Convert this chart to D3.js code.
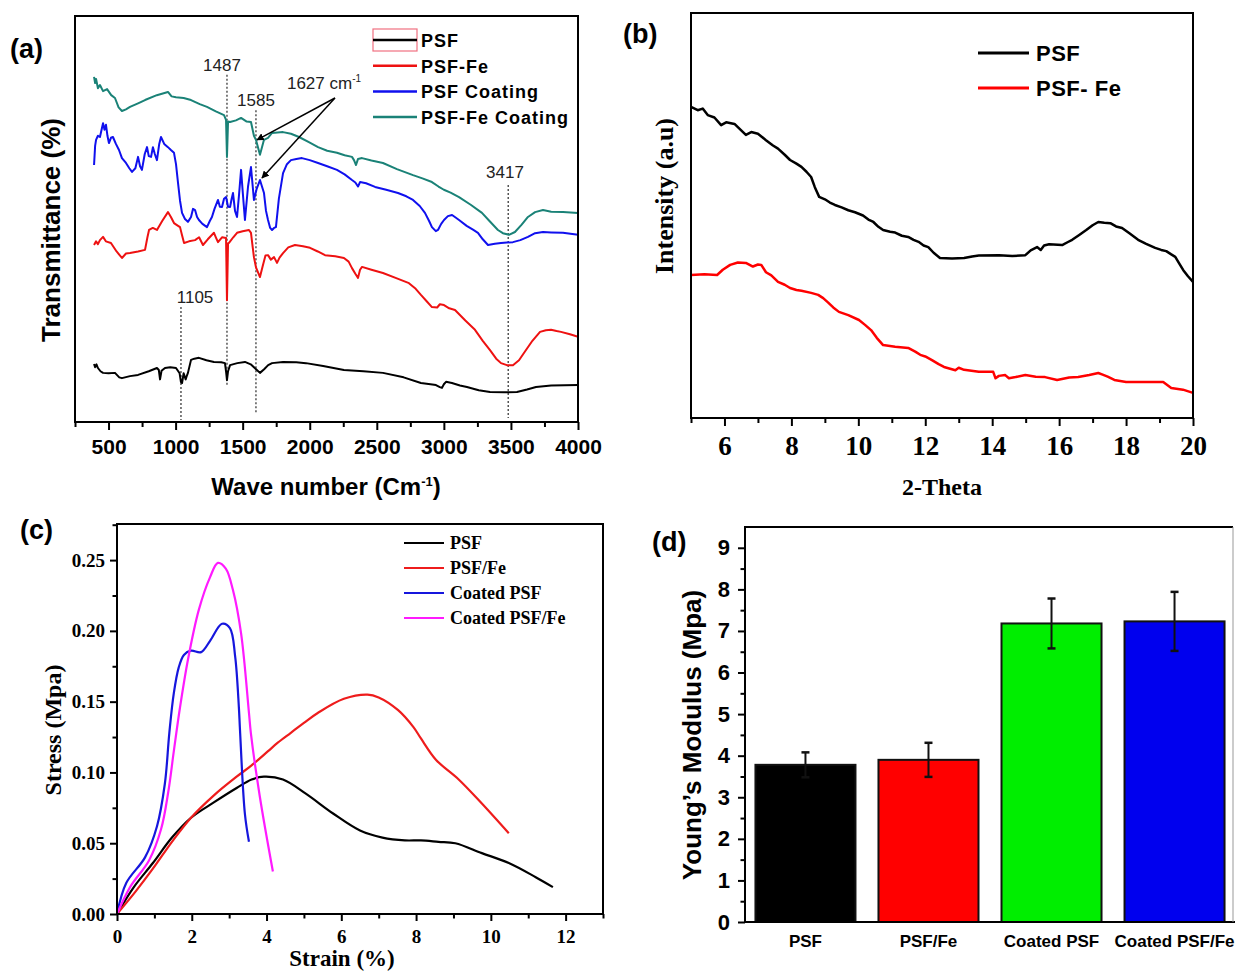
<!DOCTYPE html>
<html lang="en">
<head>
<meta charset="UTF-8">
<title>PSF membranes</title>
<style>
  body { margin:0; background:#fff; }
  svg { display:block; }
</style>
</head>
<body>
<script src="https://d3js.org/d3.v7.min.js"></script>
<script>
// ---------- (a) FTIR spectra: [wave number, transmittance (a.u.)]
var ftirPSF = [[392,14.3],[400,13.5],[410,14.2],[421,13.3],[440,12.5],[459,12.1],[500,12.0],[548,12.1],[580,11.0],[600,10.8],[660,11.3],[720,11.6],[800,12.5],[861,13.3],[875,12.8],[884,10.5],[895,12.6],[921,13.3],[960,13.5],[1003,13.3],[1030,12.0],[1040,9.8],[1048,9.6],[1060,12.0],[1075,10.5],[1085,11.5],[1092,12.1],[1115,15.3],[1140,15.6],[1174,15.8],[1230,15.2],[1286,14.8],[1340,14.7],[1368,14.5],[1376,12.5],[1383,10.3],[1391,12.5],[1406,14.0],[1460,14.5],[1517,14.8],[1560,14.2],[1600,13.0],[1629,12.1],[1660,13.0],[1690,14.0],[1719,14.5],[1801,14.8],[1900,14.7],[1972,14.5],[2100,13.8],[2255,12.8],[2400,12.5],[2546,12.1],[2700,11.0],[2829,9.6],[2900,9.3],[2941,9.1],[2970,8.6],[2986,8.4],[3000,9.3],[3016,9.9],[3060,9.6],[3120,9.0],[3172,8.6],[3260,7.8],[3344,7.4],[3450,7.3],[3545,7.4],[3620,8.0],[3687,8.6],[3800,9.0],[4000,9.1]];
var ftirPSFFe = [[392,43.6],[407,44.5],[421,43.8],[436,44.8],[459,45.6],[480,44.5],[518,44.1],[560,42.0],[600,40.4],[630,41.5],[660,41.6],[720,42.0],[772,42.4],[790,45.5],[802,47.3],[830,47.8],[861,47.3],[900,49.5],[943,51.7],[965,50.5],[988,49.0],[1010,48.5],[1033,48.0],[1048,46.0],[1063,44.1],[1100,44.5],[1145,44.8],[1175,45.5],[1204,43.6],[1240,45.0],[1286,46.6],[1300,45.5],[1316,44.3],[1346,45.5],[1376,45.3],[1383,30.0],[1391,44.0],[1398,44.1],[1430,45.5],[1458,46.6],[1500,47.0],[1547,47.3],[1562,46.6],[1575,43.0],[1584,40.6],[1600,38.0],[1629,35.7],[1650,38.5],[1670,41.0],[1689,41.1],[1710,40.0],[1734,40.6],[1756,39.2],[1775,40.5],[1801,41.6],[1840,43.0],[1890,43.6],[1950,43.3],[2002,42.9],[2060,42.0],[2114,41.1],[2190,40.8],[2255,40.4],[2290,39.5],[2315,37.9],[2340,36.5],[2360,35.5],[2375,37.5],[2390,38.2],[2460,37.5],[2546,36.7],[2640,35.5],[2740,34.2],[2790,32.8],[2829,31.3],[2870,29.8],[2911,28.3],[2950,28.2],[2970,29.0],[3001,28.8],[3040,28.0],[3083,27.6],[3160,25.0],[3232,22.7],[3290,20.0],[3344,17.7],[3390,15.6],[3426,14.5],[3470,14.0],[3515,14.0],[3560,15.2],[3597,17.0],[3660,20.0],[3717,22.2],[3760,22.6],[3799,22.7],[3840,22.4],[3873,22.2],[3940,21.6],[4000,21.0]];
var ftirCoat = [[392,63.3],[400,68.0],[407,69.5],[421,70.5],[436,70.2],[459,73.6],[470,72.0],[481,73.2],[492,70.5],[503,68.7],[518,70.0],[533,70.2],[555,68.5],[578,67.0],[600,65.0],[630,63.8],[655,62.5],[675,61.6],[700,62.5],[720,65.3],[735,63.0],[749,62.1],[770,66.0],[787,67.7],[800,65.5],[817,65.3],[831,67.7],[845,66.0],[861,64.5],[878,68.5],[891,70.2],[915,68.5],[943,67.7],[965,67.0],[988,66.3],[1003,63.5],[1018,58.9],[1033,54.5],[1048,51.5],[1070,50.0],[1092,49.3],[1115,50.5],[1130,52.5],[1145,52.2],[1160,50.5],[1174,49.75],[1200,48.8],[1234,48.0],[1255,49.5],[1271,50.5],[1290,52.5],[1316,54.7],[1330,53.0],[1346,52.96],[1361,55.0],[1376,55.4],[1391,53.0],[1406,52.96],[1418,55.0],[1428,56.4],[1443,52.0],[1458,50.5],[1473,56.0],[1488,62.1],[1502,56.0],[1517,49.75],[1540,58.0],[1562,62.8],[1575,58.0],[1584,54.7],[1605,57.5],[1629,59.6],[1644,58.0],[1659,56.4],[1674,52.0],[1689,49.75],[1705,47.8],[1719,47.3],[1734,47.8],[1748,48.0],[1770,55.0],[1801,61.3],[1830,63.5],[1860,64.5],[1900,64.8],[1942,65.0],[2000,64.5],[2062,63.8],[2130,63.0],[2203,62.1],[2260,61.0],[2315,59.6],[2340,59.0],[2360,58.0],[2375,59.1],[2420,58.8],[2487,57.9],[2570,57.2],[2658,56.4],[2720,55.6],[2770,54.7],[2820,53.2],[2859,51.5],[2890,49.5],[2911,48.0],[2940,47.0],[2956,47.3],[2980,48.8],[3001,49.75],[3030,50.7],[3061,51.0],[3090,50.3],[3113,49.75],[3170,48.3],[3220,47.3],[3254,46.6],[3290,45.0],[3329,43.6],[3380,43.9],[3426,44.1],[3470,44.2],[3515,44.3],[3570,44.8],[3627,45.6],[3680,46.5],[3739,46.8],[3800,46.7],[3888,46.6],[4000,46.1]];
var ftirFeCoat = [[392,85.0],[400,83.5],[407,84.5],[421,82.2],[436,83.0],[459,81.5],[489,82.0],[520,80.5],[548,79.8],[575,77.5],[600,76.6],[630,77.0],[660,77.6],[720,78.5],[772,79.3],[860,80.5],[943,81.3],[970,80.2],[1003,80.0],[1060,79.8],[1115,79.3],[1180,78.3],[1234,77.6],[1300,76.5],[1361,75.6],[1376,74.4],[1383,65.3],[1391,74.0],[1406,73.9],[1450,74.3],[1488,74.9],[1530,74.0],[1562,73.9],[1584,70.5],[1599,69.5],[1629,65.8],[1659,69.5],[1689,70.0],[1719,71.2],[1801,71.4],[1860,71.0],[1920,70.2],[1990,69.0],[2062,67.7],[2130,66.8],[2203,66.3],[2260,65.7],[2315,65.3],[2330,64.5],[2345,63.3],[2360,64.8],[2390,65.0],[2460,64.4],[2546,63.8],[2650,62.3],[2770,60.8],[2840,60.0],[2911,59.1],[2960,58.0],[3000,57.2],[3050,56.5],[3113,55.4],[3200,53.5],[3284,51.5],[3340,49.5],[3403,47.3],[3440,46.5],[3485,46.1],[3530,46.8],[3580,48.6],[3627,50.5],[3680,51.7],[3739,52.2],[3800,51.8],[3888,51.7],[4000,51.5]];
var ftirNames = ['PSF', 'PSF-Fe', 'PSF Coating', 'PSF-Fe Coating'];
var ftirTicks = [500, 1000, 1500, 2000, 2500, 3000, 3500, 4000];
// marked peaks: [line position, top, bottom, label, label x, label y]
var peakMarks = [
  [1383, 85.5, 9.1, '1487', 1346, 86.5],
  [1599, 76.8, 2.2, '1585', 1599, 77.8],
  [1040, 28.3, 0.5, '1105', 1145, 29.3],
  [3480, 58.4, 1.0, '3417', 3456, 60.1]
];
var arrowFrom = [2188, 79.8];
var arrowTo = [[1607, 69.5], [1644, 60.1]];

// ---------- (b) XRD: [2-theta, intensity (a.u.)]
var xrdPSF = [[5.0,76.8],[5.2,76.0],[5.35,76.4],[5.5,74.8],[5.7,74.2],[5.9,72.3],[6.05,73.0],[6.3,72.6],[6.5,71.0],[6.64,69.9],[6.8,70.6],[7.0,70.2],[7.24,68.6],[7.45,67.3],[7.6,66.5],[7.8,65.0],[7.96,63.7],[8.15,62.8],[8.3,62.0],[8.45,60.8],[8.59,59.5],[8.7,57.0],[8.83,54.6],[9.0,54.0],[9.15,53.2],[9.3,52.6],[9.5,52.0],[9.7,51.3],[9.9,50.8],[10.14,50.0],[10.3,49.0],[10.45,48.4],[10.6,47.2],[10.74,46.4],[10.95,46.0],[11.1,45.8],[11.3,45.0],[11.49,44.7],[11.65,44.0],[11.8,43.5],[11.95,42.6],[12.09,42.2],[12.25,40.8],[12.44,39.5],[12.8,39.4],[13.16,39.5],[13.4,39.9],[13.6,40.1],[14.2,40.2],[14.6,40.0],[14.99,40.2],[15.15,41.4],[15.34,42.2],[15.45,41.5],[15.55,42.6],[15.7,42.9],[16.09,42.7],[16.25,43.4],[16.39,44.0],[16.6,45.2],[16.81,46.4],[17.0,47.6],[17.17,48.4],[17.35,48.2],[17.53,48.1],[17.7,47.3],[17.88,46.9],[18.1,45.6],[18.36,44.0],[18.6,43.0],[18.87,42.0],[19.05,41.5],[19.2,41.2],[19.35,40.4],[19.47,39.8],[19.6,38.0],[19.71,36.5],[19.85,35.0],[20.0,33.6]];
var xrdPSFFe = [[5.0,35.3],[5.4,35.5],[5.78,35.3],[5.95,36.6],[6.17,37.8],[6.4,38.4],[6.64,38.3],[6.85,37.4],[7.0,37.9],[7.1,37.8],[7.24,36.0],[7.4,35.2],[7.6,33.6],[7.8,32.9],[7.96,32.1],[8.15,31.6],[8.3,31.4],[8.59,30.9],[8.8,30.4],[8.95,29.6],[9.1,28.5],[9.25,27.3],[9.42,26.2],[9.7,25.4],[10.02,24.2],[10.2,23.0],[10.38,21.7],[10.55,19.8],[10.74,18.0],[11.1,17.6],[11.49,17.3],[11.7,16.4],[11.85,15.6],[12.0,15.2],[12.2,14.3],[12.4,13.3],[12.56,12.6],[12.9,11.8],[13.0,12.4],[13.16,11.9],[13.6,11.4],[14.03,11.4],[14.1,9.8],[14.2,10.4],[14.39,10.6],[14.5,9.8],[14.7,10.1],[14.99,10.6],[15.3,10.2],[15.58,10.1],[15.94,9.4],[16.3,10.0],[16.57,10.1],[16.9,10.6],[17.17,11.1],[17.3,10.7],[17.45,10.2],[17.65,9.4],[18.0,8.9],[18.6,8.9],[19.11,8.9],[19.35,7.4],[19.7,7.0],[20.0,6.2]];
var xrdNames = ['PSF', 'PSF- Fe'];
var xrdTicks = [6, 8, 10, 12, 14, 16, 18, 20];

// ---------- (c) tensile curves: [strain %, stress MPa]
var ssPSF = [[0,0],[0.45,0.019],[0.96,0.036],[1.47,0.054],[1.98,0.068],[2.6,0.079],[3.2,0.089],[3.6,0.095],[3.93,0.097],[4.44,0.095],[5.05,0.085],[5.78,0.071],[6.5,0.059],[7.1,0.054],[7.7,0.052],[8.13,0.052],[8.6,0.051],[9.05,0.050],[9.76,0.043],[10.48,0.036],[11.2,0.026],[11.66,0.019]];
var ssPSFFe = [[0,0],[0.5,0.016],[0.96,0.032],[1.47,0.051],[1.98,0.068],[2.6,0.084],[3.2,0.097],[3.6,0.105],[4.04,0.115],[4.3,0.121],[4.65,0.128],[5.0,0.135],[5.37,0.142],[6.07,0.152],[6.7,0.155],[7.0,0.153],[7.52,0.144],[7.93,0.132],[8.13,0.124],[8.53,0.109],[9.14,0.095],[9.76,0.078],[10.48,0.057]];
var ssCoated = [[0,0],[0.25,0.022],[0.75,0.040],[1.07,0.062],[1.28,0.092],[1.4,0.128],[1.52,0.156],[1.65,0.174],[1.79,0.183],[1.98,0.186],[2.25,0.185],[2.49,0.193],[2.81,0.205],[3.02,0.202],[3.16,0.182],[3.26,0.146],[3.29,0.130],[3.42,0.071],[3.53,0.051]];
var ssCoatedFe = [[0,0],[0.35,0.019],[0.86,0.038],[1.18,0.060],[1.37,0.086],[1.52,0.115],[1.68,0.145],[1.9,0.180],[2.19,0.215],[2.49,0.238],[2.7,0.248],[2.91,0.244],[3.1,0.229],[3.32,0.198],[3.53,0.142],[3.58,0.128],[3.82,0.083],[4.17,0.030]];
var ssNames = ['PSF', 'PSF/Fe', 'Coated PSF', 'Coated PSF/Fe'];
var strainTicks = [0, 2, 4, 6, 8, 10, 12];
var stressTicks = [0, 0.05, 0.10, 0.15, 0.20, 0.25];

// ---------- (d) Young's modulus
var samples = ['PSF', 'PSF/Fe', 'Coated PSF', 'Coated PSF/Fe'];
var modulus = [3.78, 3.9, 7.18, 7.23];
var modulusErr = [0.3, 0.41, 0.6, 0.71];
var modulusTicks = [0, 1, 2, 3, 4, 5, 6, 7, 8, 9];

var SANS = 'Arial, "Liberation Sans", sans-serif';
var SERIF = '"Times New Roman", "Liberation Serif", serif';

var svg = d3.select('body').append('svg')
    .attr('width', 1235)
    .attr('height', 973)
    .style('background', '#fff');

function addAxis(g, orient, scale, major, minor, fmt, font, size, pad, len) {
  var make = orient === 'bottom' ? d3.axisBottom : d3.axisLeft;
  g.append('g').call(make(scale).tickValues(minor).tickSize(len / 2 + 1).tickFormat(''));
  var gm = g.append('g').call(make(scale).tickValues(major).tickSize(len).tickPadding(pad).tickFormat(fmt));
  g.selectAll('.domain').remove();
  g.selectAll('.tick line').attr('stroke', '#000').attr('stroke-width', 2);
  gm.selectAll('text')
    .attr('fill', '#000')
    .style('font-family', font)
    .style('font-weight', 'bold')
    .style('font-size', size + 'px');
}

function label(txt, x, y, font, size, rot, anchor) {
  return svg.append('text')
    .attr('transform', 'translate(' + x + ',' + y + ')' + (rot ? ' rotate(' + rot + ')' : ''))
    .attr('text-anchor', anchor || 'middle')
    .style('font-family', font)
    .style('font-weight', 'bold')
    .style('font-size', size + 'px')
    .text(txt);
}

// ================= (a)
var ax = d3.scaleLinear().domain([250, 4000]).range([75, 578]);
var ay = d3.scaleLinear().domain([0, 100]).range([422, 16]);
var aLine = d3.line().x(function(d){ return ax(d[0]); }).y(function(d){ return ay(d[1]); });
var ftirSeries = [ftirPSF, ftirPSFFe, ftirCoat, ftirFeCoat];
var ftirColors = ['#000000', '#ee1111', '#1010ee', '#1a8277'];

var ga = svg.append('g');
var aMinor = d3.range(250, 4001, 250).filter(function(v){ return v % 500 !== 0; });
var gax = ga.append('g').attr('transform', 'translate(0,422)');
addAxis(gax, 'bottom', ax, ftirTicks, aMinor, d3.format('d'), SANS, 21, 9, 8);

// peak markers
peakMarks.forEach(function(p) {
  ga.append('line')
    .attr('x1', ax(p[0])).attr('x2', ax(p[0]))
    .attr('y1', ay(p[1])).attr('y2', ay(p[2]))
    .attr('stroke', '#555').attr('stroke-width', 1.5)
    .attr('stroke-dasharray', '2,2');
});

ga.selectAll('path.ftir')
  .data(ftirSeries)
  .enter()
  .append('path')
  .attr('class', 'ftir')
  .attr('fill', 'none')
  .attr('stroke', function(d, i){ return ftirColors[i]; })
  .attr('stroke-width', 2)
  .attr('stroke-linejoin', 'round')
  .attr('d', aLine);

peakMarks.forEach(function(p) {
  ga.append('text')
    .attr('x', ax(p[4])).attr('y', ay(p[5]))
    .attr('text-anchor', 'middle')
    .style('font-family', SANS).style('font-size', '17px').attr('fill', '#222')
    .text(p[3]);
});
var cmLab = ga.append('text')
  .attr('x', ax(1830)).attr('y', ay(82))
  .style('font-family', SANS).style('font-size', '17px').attr('fill', '#222');
cmLab.append('tspan').text('1627 cm');
cmLab.append('tspan').attr('dy', -7).style('font-size', '10px').text('-1');

svg.append('defs').append('marker')
  .attr('id', 'arr').attr('viewBox', '0 0 10 10')
  .attr('refX', 9).attr('refY', 5)
  .attr('markerWidth', 5).attr('markerHeight', 5)
  .attr('orient', 'auto')
  .append('path').attr('d', 'M0,0 L10,5 L0,10 z').attr('fill', '#000');
arrowTo.forEach(function(t) {
  ga.append('line')
    .attr('x1', ax(arrowFrom[0])).attr('y1', ay(arrowFrom[1]))
    .attr('x2', ax(t[0])).attr('y2', ay(t[1]))
    .attr('stroke', '#000').attr('stroke-width', 1.5)
    .attr('marker-end', 'url(#arr)');
});

ga.append('rect').attr('x', 75).attr('y', 16).attr('width', 503).attr('height', 406)
  .attr('fill', 'none').attr('stroke', '#000').attr('stroke-width', 2);

// legend (a)
ftirNames.forEach(function(n, i) {
  var y = 40 + i * 25.7;
  if (i === 0) {
    ga.append('rect').attr('x', 373).attr('y', y - 11).attr('width', 44).attr('height', 22)
      .attr('fill', 'none').attr('stroke', '#f07080').attr('stroke-width', 1.2);
  }
  ga.append('line').attr('x1', 373).attr('x2', 417).attr('y1', y).attr('y2', y)
    .attr('stroke', ftirColors[i]).attr('stroke-width', 2.5);
  ga.append('text').attr('x', 421).attr('y', y + 7)
    .style('font-family', SANS).style('font-weight', 'bold').style('font-size', '18px')
    .style('letter-spacing', '1px')
    .text(n);
});

label('(a)', 10, 58, SANS, 27, 0, 'start');
label('Transmittance (%)', 60, 230, SANS, 26, -90);
var wt = label('Wave number (Cm', 326, 495, SANS, 24);
wt.append('tspan').attr('dy', -9).style('font-size', '13px').text('-1');
wt.append('tspan').attr('dy', 9).text(')');

// ================= (b)
var bx = d3.scaleLinear().domain([5, 20]).range([691, 1193]);
var by = d3.scaleLinear().domain([0, 100]).range([418, 13]);
var bLine = d3.line().x(function(d){ return bx(d[0]); }).y(function(d){ return by(d[1]); });
var xrdColors = ['#000000', '#ff0000'];
var gb = svg.append('g');
var gbx = gb.append('g').attr('transform', 'translate(0,418)');
addAxis(gbx, 'bottom', bx, xrdTicks, [5, 7, 9, 11, 13, 15, 17, 19], d3.format('d'), SERIF, 27, 10, 8);
gb.selectAll('path.xrd')
  .data([xrdPSF, xrdPSFFe])
  .enter()
  .append('path')
  .attr('fill', 'none')
  .attr('stroke', function(d, i){ return xrdColors[i]; })
  .attr('stroke-width', 2.5)
  .attr('stroke-linejoin', 'round')
  .attr('d', bLine);
gb.append('rect').attr('x', 691).attr('y', 13).attr('width', 502).attr('height', 405)
  .attr('fill', 'none').attr('stroke', '#000').attr('stroke-width', 2);
xrdNames.forEach(function(n, i) {
  var y = 53 + i * 35;
  gb.append('line').attr('x1', 978).attr('x2', 1029).attr('y1', y).attr('y2', y)
    .attr('stroke', xrdColors[i]).attr('stroke-width', 3);
  gb.append('text').attr('x', 1036).attr('y', y + 8)
    .style('font-family', SANS).style('font-weight', 'bold').style('font-size', '22px')
    .style('letter-spacing', '0.5px')
    .text(n);
});
label('(b)', 623, 43, SANS, 27, 0, 'start');
label('Intensity (a.u)', 673, 196, SERIF, 26, -90);
label('2-Theta', 942, 495, SERIF, 24);

// ================= (c)
var cx = d3.scaleLinear().domain([0, 13]).range([117, 603]);
var cy = d3.scaleLinear().domain([0, 0.2755]).range([914, 524]);
var cLine = d3.line().x(function(d){ return cx(d[0]); }).y(function(d){ return cy(d[1]); })
  .curve(d3.curveCatmullRom.alpha(0.5));
var ssColors = ['#000000', '#ee1c1c', '#1616dd', '#ff1aff'];
var gc = svg.append('g');
var gcx = gc.append('g').attr('transform', 'translate(0,914)');
addAxis(gcx, 'bottom', cx, strainTicks, [1, 3, 5, 7, 9, 11, 13], d3.format('d'), SERIF, 19, 9, 7);
var gcy = gc.append('g').attr('transform', 'translate(117,0)');
addAxis(gcy, 'left', cy, stressTicks, [0.025, 0.075, 0.125, 0.175, 0.225, 0.275], d3.format('.2f'), SERIF, 19, 5, 7);
gc.selectAll('path.ss')
  .data([ssPSF, ssPSFFe, ssCoated, ssCoatedFe])
  .enter()
  .append('path')
  .attr('fill', 'none')
  .attr('stroke', function(d, i){ return ssColors[i]; })
  .attr('stroke-width', 2.2)
  .attr('d', cLine);
gc.append('rect').attr('x', 117).attr('y', 524).attr('width', 486).attr('height', 390)
  .attr('fill', 'none').attr('stroke', '#000').attr('stroke-width', 2);
ssNames.forEach(function(n, i) {
  var y = 543 + i * 25;
  gc.append('line').attr('x1', 404).attr('x2', 444).attr('y1', y).attr('y2', y)
    .attr('stroke', ssColors[i]).attr('stroke-width', 2.2);
  gc.append('text').attr('x', 450).attr('y', y + 6)
    .style('font-family', SERIF).style('font-weight', 'bold').style('font-size', '18px')
    .text(n);
});
label('(c)', 20, 539, SANS, 27, 0, 'start');
label('Stress (Mpa)', 61, 730, SERIF, 24, -90);
label('Strain (%)', 342, 966, SERIF, 23);

// ================= (d)
var dx = d3.scaleBand().domain(samples).range([745, 1235]).paddingInner(0.187).paddingOuter(0.085);
var dy = d3.scaleLinear().domain([0, 9.5]).range([922, 527]);
var barColors = ['#000000', '#ff0000', '#00ee00', '#0000ee'];
var gd = svg.append('g');
var gdy = gd.append('g').attr('transform', 'translate(745,0)');
addAxis(gdy, 'left', dy, modulusTicks, d3.range(0.5, 9.5, 1), d3.format('d'), SANS, 22, 8, 7);
gd.selectAll('rect.bar')
  .data(samples)
  .enter()
  .append('rect')
  .attr('class', 'bar')
  .attr('x', function(d){ return dx(d); })
  .attr('y', function(d, i){ return dy(modulus[i]); })
  .attr('width', dx.bandwidth())
  .attr('height', function(d, i){ return dy(0) - dy(modulus[i]); })
  .attr('fill', function(d, i){ return barColors[i]; })
  .attr('stroke', '#111')
  .attr('stroke-width', 2);
samples.forEach(function(s, i) {
  var xc = dx(s) + dx.bandwidth() / 2;
  var hi = dy(modulus[i] + modulusErr[i]), lo = dy(modulus[i] - modulusErr[i]);
  gd.append('line').attr('x1', xc).attr('x2', xc).attr('y1', hi).attr('y2', lo)
    .attr('stroke', '#111').attr('stroke-width', 2);
  [hi, lo].forEach(function(y) {
    gd.append('line').attr('x1', xc - 4).attr('x2', xc + 4).attr('y1', y).attr('y2', y)
      .attr('stroke', '#111').attr('stroke-width', 2.5);
  });
  gd.append('text').attr('x', xc).attr('y', 947).attr('text-anchor', 'middle')
    .style('font-family', SANS).style('font-weight', 'bold').style('font-size', '17px')
    .text(s);
});
gd.append('path').attr('d', 'M745,922 V527 H1233')
  .attr('fill', 'none').attr('stroke', '#000').attr('stroke-width', 2);
gd.append('line').attr('x1', 745).attr('x2', 1235).attr('y1', 922).attr('y2', 922)
  .attr('stroke', '#000').attr('stroke-width', 2);
gd.append('line').attr('x1', 1233).attr('x2', 1233).attr('y1', 527).attr('y2', 922)
  .attr('stroke', '#999').attr('stroke-width', 1);
label('(d)', 652, 551, SANS, 27, 0, 'start');
label('Young\u2019s Modulus (Mpa)', 701, 735, SANS, 26, -90);
</script>
</body>
</html>
